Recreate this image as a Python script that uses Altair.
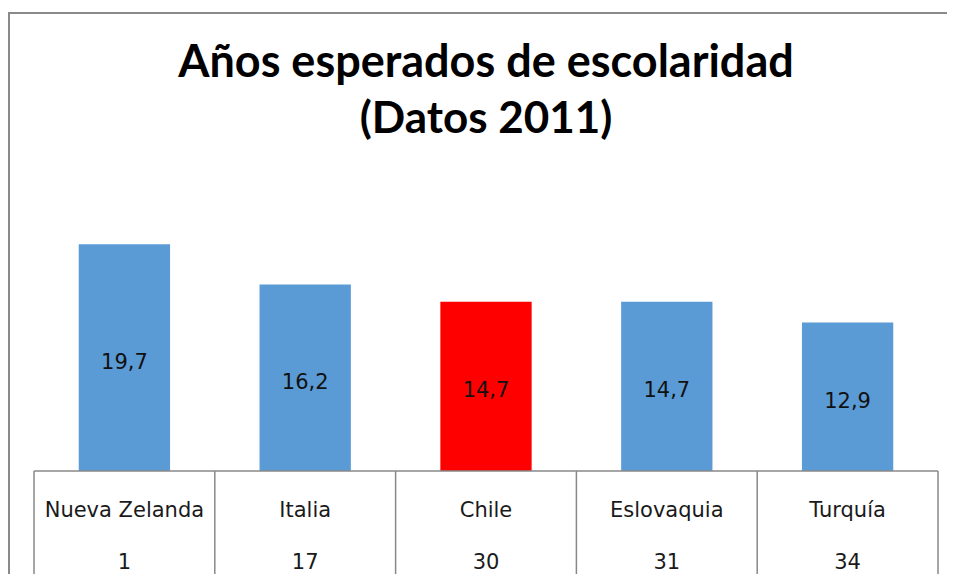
import altair as alt
import pandas as pd

countries = ["Nueva Zelanda", "Italia", "Chile", "Eslovaquia", "Turquía"]
values = [19.7, 16.2, 14.7, 14.7, 12.9]
ranks = [1, 17, 30, 31, 34]
highlight = "Chile"
title_lines = ["Años esperados de escolaridad", "(Datos 2011)"]

df = pd.DataFrame({"pais": countries, "valor": values, "rank": [str(r) for r in ranks]})
df["etiqueta"] = [f"{v:.1f}".replace(".", ",") for v in values]
df["grupo"] = ["destacado" if c == highlight else "otro" for c in countries]

W, H = 904, 458
BOTTOM = 103
GRID = "#888888"
LABEL_FONT = "DejaVu Sans"

xenc = alt.X("pais:N", sort=countries, axis=None,
             scale=alt.Scale(paddingInner=0, paddingOuter=0))
yscale = alt.Scale(domain=[0, 39.8])

base = alt.Chart(df)

bars = base.mark_bar(width=alt.RelativeBandSize(0.505)).encode(
    x=xenc,
    y=alt.Y("valor:Q", axis=None, scale=yscale),
    color=alt.Color("grupo:N", legend=None,
                    scale=alt.Scale(domain=["destacado", "otro"], range=["#FF0000", "#5B9BD5"])),
)

vals = base.transform_calculate(mid="datum.valor / 2").mark_text(
    font=LABEL_FONT, fontSize=21, color="#111111", baseline="middle", dy=5
).encode(
    x=xenc,
    y=alt.Y("mid:Q", axis=None, scale=yscale),
    text="etiqueta:N",
)

cat_text = base.mark_text(font=LABEL_FONT, fontSize=21, color="#1a1a1a", baseline="alphabetic").encode(
    x=xenc, y=alt.value(504), text="pais:N"
)
rank_text = base.mark_text(font=LABEL_FONT, fontSize=21, color="#1a1a1a", baseline="alphabetic").encode(
    x=xenc, y=alt.value(556), text="rank:N"
)

main = alt.layer(bars, vals, cat_text, rank_text)

# table grid: boundaries between categories (index 0..n)
bounds = pd.DataFrame({"i": list(range(len(countries) + 1))})
vrules = alt.Chart(bounds).mark_rule(color=GRID, strokeWidth=1.5).encode(
    x=alt.X("i:Q", axis=None, scale=alt.Scale(domain=[0, len(countries)], nice=False, zero=False)),
    y=alt.value(H), y2=alt.value(H + BOTTOM),
)

one = alt.Chart(pd.DataFrame({"k": [0]}))
hrule = one.mark_rule(color=GRID, strokeWidth=1.5).encode(
    x=alt.value(0), x2=alt.value(W), y=alt.value(H)
)
border_top = one.mark_rect(color="#8a8a8a").encode(
    x=alt.value(-26), x2=alt.value(W + 9), y=alt.value(-1), y2=alt.value(1)
)
border_left = one.mark_rect(color="#8a8a8a").encode(
    x=alt.value(-26), x2=alt.value(-24), y=alt.value(-1), y2=alt.value(H + BOTTOM)
)

tdf1 = pd.DataFrame({"t": [title_lines[0]]})
tdf2 = pd.DataFrame({"t": [title_lines[1]]})
t1 = alt.Chart(tdf1).mark_text(font="Lato", fontWeight="bold", fontSize=45, color="#000000",
                               baseline="alphabetic", align="center").encode(
    x=alt.value(W / 2), y=alt.value(64), text="t:N"
)
t2 = alt.Chart(tdf2).mark_text(font="Lato", fontWeight="bold", fontSize=44, color="#000000",
                               baseline="alphabetic", align="center").encode(
    x=alt.value(W / 2), y=alt.value(120), text="t:N"
)

chart = alt.layer(
    main, vrules, hrule, border_top, border_left, t1, t2
).resolve_scale(x="independent").properties(
    width=W, height=H,
    autosize=alt.AutoSizeParams(type="none"),
    padding={"left": 26, "top": 5, "right": 9, "bottom": BOTTOM},
).configure_view(stroke=None)

chart.save("out.html", embed_options={"renderer": "svg", "actions": False})
